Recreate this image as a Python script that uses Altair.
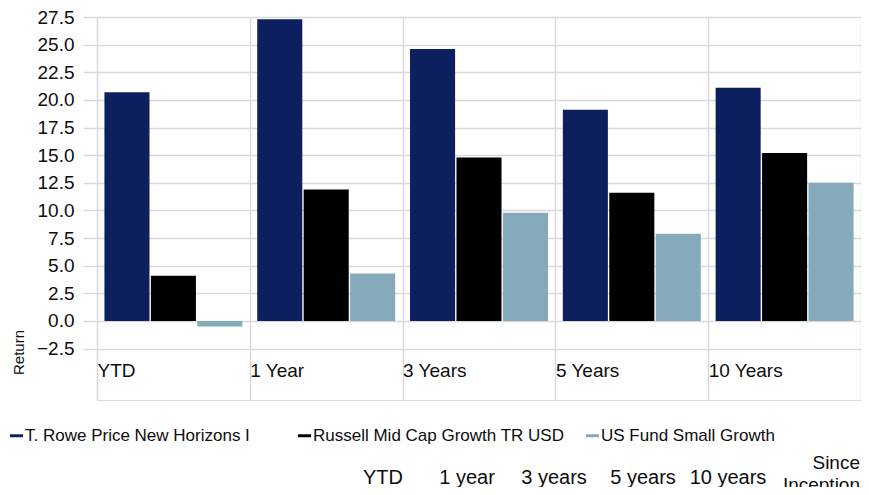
import altair as alt
import pandas as pd

# ---- data ----
periods = ["YTD", "1 Year", "3 Years", "5 Years", "10 Years"]
series_names = ["T. Rowe Price New Horizons I", "Russell Mid Cap Growth TR USD", "US Fund Small Growth"]
fund = [20.7, 27.3, 24.6, 19.1, 21.1]
index_vals = [4.1, 11.9, 14.8, 11.6, 15.2]
category_vals = [-0.5, 4.3, 9.8, 7.9, 12.5]
colors = ["#0c1f5e", "#000000", "#84aabb"]
y_ticks = [-2.5, 0.0, 2.5, 5.0, 7.5, 10.0, 12.5, 15.0, 17.5, 20.0, 22.5, 25.0, 27.5]
header_labels = ["YTD", "1 year", "3 years", "5 years", "10 years"]

rows = []
for s, vals in zip(series_names, [fund, index_vals, category_vals]):
    for p, v in zip(periods, vals):
        rows.append({"Period": p, "Series": s, "Return": v})
df = pd.DataFrame(rows)

W, H = 764, 383
LEFT = 97  # page x of plot origin
TOP = 17   # page y of plot origin
TXT = "#0d0d0d"
GRID = "#d9d9d9"
FONT = "Liberation Sans"

bars = alt.Chart(df).mark_bar().encode(
    x=alt.X("Period:N", sort=periods,
            scale=alt.Scale(paddingInner=0, paddingOuter=0),
            axis=alt.Axis(title=None, tickBand="extent", grid=True, gridColor=GRID,
                          gridWidth=1.5, ticks=False, domain=False,
                          labelAlign="left", labelOffset=-W / 10, labelPadding=-30,
                          labelBaseline="middle", labelFontSize=19, labelColor=TXT,
                          labelFont=FONT, labelAngle=0)),
    xOffset=alt.XOffset("Series:N", sort=series_names,
                        scale=alt.Scale(paddingInner=0.03, paddingOuter=0.16)),
    y=alt.Y("Return:Q",
            scale=alt.Scale(domain=[-7.15, 27.5], nice=False, zero=False),
            axis=alt.Axis(values=y_ticks, format=".1f", grid=True, gridColor=GRID,
                          gridWidth=1.5, tickColor=GRID, tickSize=14, tickWidth=1.5,
                          domain=False, labelPadding=9, labelFontSize=19,
                          labelColor=TXT, labelFont=FONT, title="Return",
                          titleFontSize=15, titleFontWeight="normal", titleColor=TXT,
                          titleFont=FONT, titleX=-79, titleY=352 - TOP,
                          titleBaseline="middle", titleAlign="center")),
    y2=alt.datum(0),
    color=alt.Color("Series:N", sort=series_names,
                    scale=alt.Scale(domain=series_names, range=colors),
                    legend=alt.Legend(title=None, orient="none", legendX=-89, legendY=427 - TOP,
                                      direction="horizontal", gridAlign="all",
                                      symbolType="M-1,-0.23H1V0.23H-1Z", symbolSize=169,
                                      symbolStrokeWidth=0, labelFontSize=17, labelOffset=0,
                                      labelLimit=400, labelColor=TXT, labelFont=FONT,
                                      columnPadding=19, padding=0)),
)

layers = [bars]
header_x = [383, 467, 554, 643, 728]
for lab, px in zip(header_labels, header_x):
    layers.append(alt.Chart(pd.DataFrame({"t": [lab]})).mark_text(
        font=FONT, fontSize=20, color=TXT, align="center", baseline="middle"
    ).encode(text="t:N", x=alt.value(px - LEFT), y=alt.value(478 - TOP)))
for lab, py in [("Since", 463), ("Inception", 485)]:
    layers.append(alt.Chart(pd.DataFrame({"t": [lab]})).mark_text(
        font=FONT, fontSize=19, color=TXT, align="right", baseline="middle"
    ).encode(text="t:N", x=alt.value(860 - LEFT), y=alt.value(py - TOP)))

chart = alt.layer(*layers).properties(
    width=W, height=H,
    autosize=alt.AutoSizeParams(type="none"),
    padding={"left": 89, "top": 9, "right": 0, "bottom": 87},
).configure_view(stroke=None).configure(background="white")

chart.save("out.html", embed_options={"renderer": "svg", "actions": False})
